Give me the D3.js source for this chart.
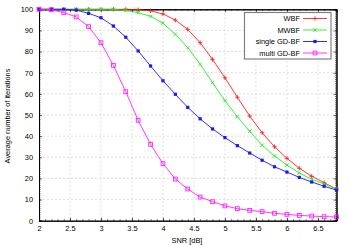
<!DOCTYPE html>
<html><head><meta charset="utf-8">
<script src="https://cdn.jsdelivr.net/npm/d3@7"></script>
<style>body{margin:0;background:#fff}svg{display:block;font-family:"Liberation Sans",Arial,sans-serif}</style>
</head><body><svg id="c" width="350" height="245"></svg>
<script>
const snr = [2.0,2.2,2.4,2.6,2.8,3.0,3.2,3.4,3.6,3.8,4.0,4.2,4.4,4.6,4.8,5.0,5.2,5.4,5.6,5.8,6.0,6.2,6.4,6.6,6.8];
const wbf = [100,100,100,100,100,100,100,100,99.8,99.3,97.8,94.9,90.5,84.2,76.3,67.6,58.4,49.5,41.6,35.0,29.5,24.8,21.0,18.0,14.9];
const mwbf = [100,100,100,100,100,100,100,99.5,98.4,96.7,93.4,88.2,81.8,74.0,65.3,56.8,49.2,42.3,35.7,30.6,26.3,22.6,19.6,17.4,15.0];
const single = [100,100,100,99.6,98.1,96.0,92.1,86.8,80.3,73.2,66.2,59.8,53.6,48.2,43.4,39.3,35.5,32.0,28.6,25.5,23.0,20.5,18.3,16.3,14.5];
const multi = [100,99.8,98.4,96.4,91.8,84.2,73.5,61.0,47.5,36.1,27.0,19.7,15.0,11.2,9.0,7.0,5.7,4.9,4.3,3.5,3.0,2.5,2.2,1.9,1.75];
const xTicks = [2,2.5,3,3.5,4,4.5,5,5.5,6,6.5];
const yTicks = [0,10,20,30,40,50,60,70,80,90,100];
const names = ["WBF","MWBF","single GD-BF","multi GD-BF"];
const colors = ["#ff2020","#22ee22","#1a1aee","#ff22ff"];
const series = [wbf, mwbf, single, multi];

const svg = d3.select("#c");
const L=39, R=336.5, T=9.3, B=220.7;
const x = d3.scaleLinear().domain([2,6.8]).range([L,R]);
const y = d3.scaleLinear().domain([0,100]).range([B,T]);
const FS = 7.4;

// grid
const g = svg.append("g");
g.selectAll(".gx").data(xTicks.slice(1)).enter().append("line")
  .attr("x1",d=>x(d)).attr("x2",d=>x(d)).attr("y1",T).attr("y2",B)
  .attr("stroke","#c8c8c8").attr("stroke-width",0.6).attr("stroke-dasharray","2,2");
g.selectAll(".gy").data(yTicks.slice(1,-1)).enter().append("line")
  .attr("y1",d=>y(d)).attr("y2",d=>y(d)).attr("x1",L).attr("x2",R)
  .attr("stroke","#c8c8c8").attr("stroke-width",0.6).attr("stroke-dasharray","2,2");

// axes
const fmt = d=>d3.format("")(d);
svg.append("g").attr("transform",`translate(0,${B})`)
  .call(d3.axisBottom(x).tickValues(xTicks).tickSize(-3).tickPadding(5.5).tickFormat(fmt));
svg.append("g").attr("transform",`translate(0,${T})`)
  .call(d3.axisTop(x).tickValues(xTicks).tickSize(-3).tickFormat(""));
svg.append("g").attr("transform",`translate(${L},0)`)
  .call(d3.axisLeft(y).tickValues(yTicks).tickSize(-3).tickPadding(6));
svg.append("g").attr("transform",`translate(${R},0)`)
  .call(d3.axisRight(y).tickValues(yTicks).tickSize(-3).tickFormat(""));
// minor ticks
const xMinor = d3.range(2,6.81,0.1);
const yMinor = d3.range(0,100.1,1);
svg.append("g").attr("transform",`translate(0,${B})`).call(d3.axisBottom(x).tickValues(xMinor).tickSize(-1.5).tickFormat(""));
svg.append("g").attr("transform",`translate(0,${T})`).call(d3.axisTop(x).tickValues(xMinor).tickSize(-1.5).tickFormat(""));
svg.append("g").attr("transform",`translate(${L},0)`).call(d3.axisLeft(y).tickValues(yMinor).tickSize(-1.5).tickFormat(""));
svg.append("g").attr("transform",`translate(${R},0)`).call(d3.axisRight(y).tickValues(yMinor).tickSize(-1.5).tickFormat(""));
svg.selectAll(".domain").attr("stroke","#000").attr("stroke-width",1);
svg.selectAll(".tick line").attr("stroke","#000").attr("stroke-width",0.6);
svg.selectAll(".tick text").attr("font-size",FS).attr("fill","#000").attr("font-family","Liberation Sans, Arial, sans-serif");

// axis labels
svg.append("text").attr("x",187).attr("y",242.5).attr("text-anchor","middle")
  .attr("font-size",FS).text("SNR [dB]");
svg.append("text").attr("transform",`translate(10,116) rotate(-90)`).attr("text-anchor","middle")
  .attr("font-size",FS).text("Average number of iterations");

// lines & markers
function marker(sel, i, cx, cy){
  const c = colors[i];
  if(i===0){
    sel.append("path").attr("d",`M${cx-2.2},${cy}H${cx+2.2}M${cx},${cy-2.2}V${cy+2.2}`).attr("stroke",c).attr("stroke-width",0.9);
  } else if(i===1){
    sel.append("path").attr("d",`M${cx-1.7},${cy-1.7}L${cx+1.7},${cy+1.7}M${cx-1.7},${cy+1.7}L${cx+1.7},${cy-1.7}`).attr("stroke",c).attr("stroke-width",0.9);
  } else if(i===2){
    sel.append("rect").attr("x",cx-1.6).attr("y",cy-1.6).attr("width",3.2).attr("height",3.2).attr("fill",c);
  } else {
    sel.append("rect").attr("x",cx-1.9).attr("y",cy-1.9).attr("width",3.8).attr("height",3.8).attr("fill","none").attr("stroke",c).attr("stroke-width",0.9);
  }
}
const line = d3.line().x((d,j)=>x(snr[j])).y(d=>y(d));
series.forEach((s,i)=>{
  const gg = svg.append("g");
  gg.append("path").datum(s).attr("d",line).attr("fill","none").attr("stroke",colors[i]).attr("stroke-width",0.9);
  s.forEach((v,j)=>marker(gg,i,x(snr[j]),y(v)));
});

// legend
const lg = svg.append("g");
lg.append("rect").attr("x",244.5).attr("y",12.5).attr("width",86.5).attr("height",46.5)
  .attr("fill","#fff").attr("stroke","#808080").attr("stroke-width",1.2);
names.forEach((n,i)=>{
  const yy = 18.5 + i*11.5;
  lg.append("text").attr("x",300).attr("y",yy+2.6).attr("text-anchor","end").attr("font-size",FS).text(n);
  lg.append("line").attr("x1",303).attr("x2",327).attr("y1",yy).attr("y2",yy).attr("stroke",colors[i]).attr("stroke-width",0.9);
  marker(lg,i,315,yy);
});
</script></body></html>
